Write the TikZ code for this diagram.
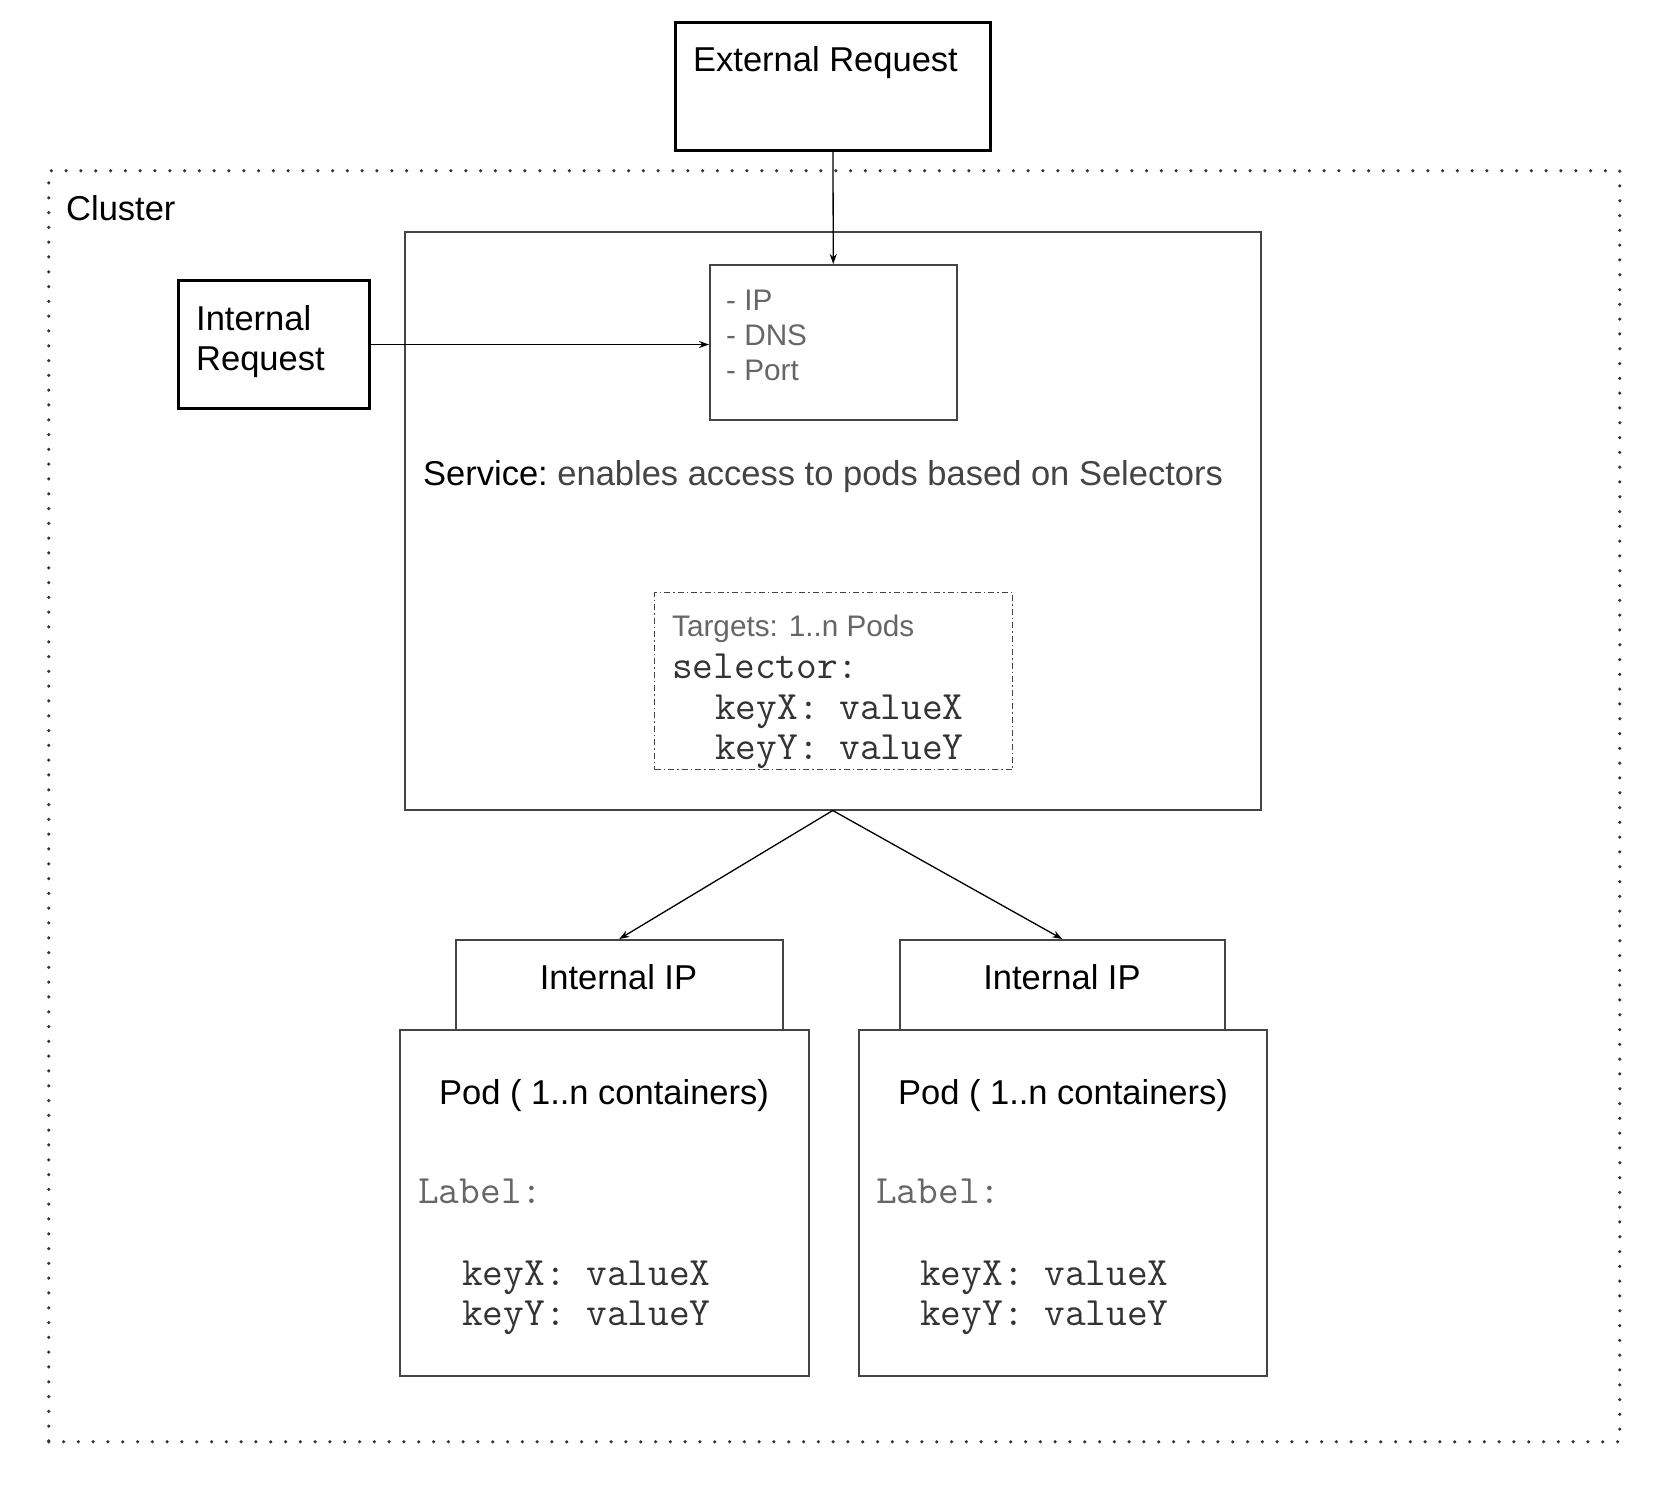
\documentclass[tikz,border=0pt]{standalone}
\usepackage{fontspec}
\setmainfont{Liberation Sans}
\usetikzlibrary{arrows.meta}
\definecolor{linegray}{HTML}{444444}
\definecolor{descgray}{HTML}{444444}
\definecolor{lightgray}{HTML}{666666}
\definecolor{monogray}{HTML}{333333}
\newcommand\fMain{\fontsize{34.5}{40}\selectfont}
\newcommand\fSmall{\fontsize{29.7}{35}\selectfont}
\newcommand\fMono{\fontsize{40.2}{44}\ttfamily\selectfont}
\begin{document}
\begin{tikzpicture}[x=1pt,y=-1pt,
  thickbox/.style={draw=black,line width=3pt,inner sep=0pt,anchor=north west},
  thinbox/.style={draw=linegray,line width=1.5pt,fill=white,inner sep=0pt,anchor=north west},
  txt/.style={inner sep=0pt,anchor=base west,font=\fMain,text=black},
  ctxt/.style={inner sep=0pt,anchor=base,font=\fMain,text=black},
  stxt/.style={inner sep=0pt,anchor=base west,font=\fSmall,text=lightgray},
  mtxt/.style={inner sep=0pt,anchor=base west,font=\fMono,text=monogray},
  conn/.style={draw=black,line width=1.3pt,-{Stealth[length=10pt,width=7pt]}}]
\useasboundingbox[fill=white] (0,0) rectangle (1674,1486);

% cluster
\node[draw=monogray,line width=3.5pt,dash pattern=on 0pt off 14.8pt,line cap=round,
      inner sep=0pt,anchor=north west,minimum width=1571pt,minimum height=1271pt] (cluster) at (47,169) {};
\node[txt] (clusterlbl) at (66,220) {Cluster};

% external request
\node[thickbox,minimum width=315pt,minimum height=128pt] (ext) at (674,21) {};
\node[txt] (extlbl) at (693,71) {External Request};

% service
\node[thinbox,minimum width=856pt,minimum height=578pt] (svc) at (404,231) {};
\node[txt,text=descgray] (svclbl) at (423,485) {{\color{black}Service:}\ enables access to pods based on Selectors};

% ip box
\node[thinbox,minimum width=247pt,minimum height=155pt] (ipbox) at (709,264) {};
\node[stxt] (ip1) at (726,310) {- IP};
\node[stxt] (ip2) at (726,345) {- DNS};
\node[stxt] (ip3) at (726,380) {- Port};

% internal request
\node[thickbox,minimum width=191pt,minimum height=128pt] (intreq) at (177,279) {};
\node[txt] (int1) at (196,330) {Internal};
\node[txt] (int2) at (196,370) {Request};

% targets
\node[draw=linegray,line width=1.3pt,dash pattern=on 6pt off 3pt on 1.5pt off 3pt,
      inner sep=0pt,anchor=north west,minimum width=358pt,minimum height=177pt] (targets) at (654,592) {};
\node[stxt] (tg1) at (672,636) {Targets: 1..n Pods};
\node[mtxt] (tg2) at (672,678) {selector:};
\node[mtxt] (tg3) at (715,719) {keyX: valueX};
\node[mtxt] (tg4) at (715,759) {keyY: valueY};

% left pod
\node[thinbox,minimum width=327pt,minimum height=90pt] (ipl) at (455,939) {};
\node[ctxt] (ipllbl) at (618.5,989) {Internal IP};
\node[thinbox,minimum width=409pt,minimum height=346pt] (podl) at (399,1029) {};
\node[ctxt] (podllbl) at (604,1104) {Pod ( 1..n containers)};
\node[mtxt,text=lightgray] (labl) at (418,1203) {Label:};
\node[mtxt] (kxl) at (462,1285) {keyX: valueX};
\node[mtxt] (kyl) at (462,1325) {keyY: valueY};

% right pod
\node[thinbox,minimum width=325pt,minimum height=90pt] (ipr) at (899,939) {};
\node[ctxt] (iprlbl) at (1062,989) {Internal IP};
\node[thinbox,minimum width=408pt,minimum height=346pt] (podr) at (858,1029) {};
\node[ctxt] (podrlbl) at (1063,1104) {Pod ( 1..n containers)};
\node[mtxt,text=lightgray] (labr) at (876,1203) {Label:};
\node[mtxt] (kxr) at (920,1285) {keyX: valueX};
\node[mtxt] (kyr) at (920,1325) {keyY: valueY};

% connectors
\draw[conn] (ext.south) -- (ipbox.north);
\draw[conn] (intreq.east) -- (intreq.east -| ipbox.west);
\draw[conn] (svc.south) -- (ipl.north);
\draw[conn] (svc.south) -- (ipr.north);
\end{tikzpicture}
\end{document}
